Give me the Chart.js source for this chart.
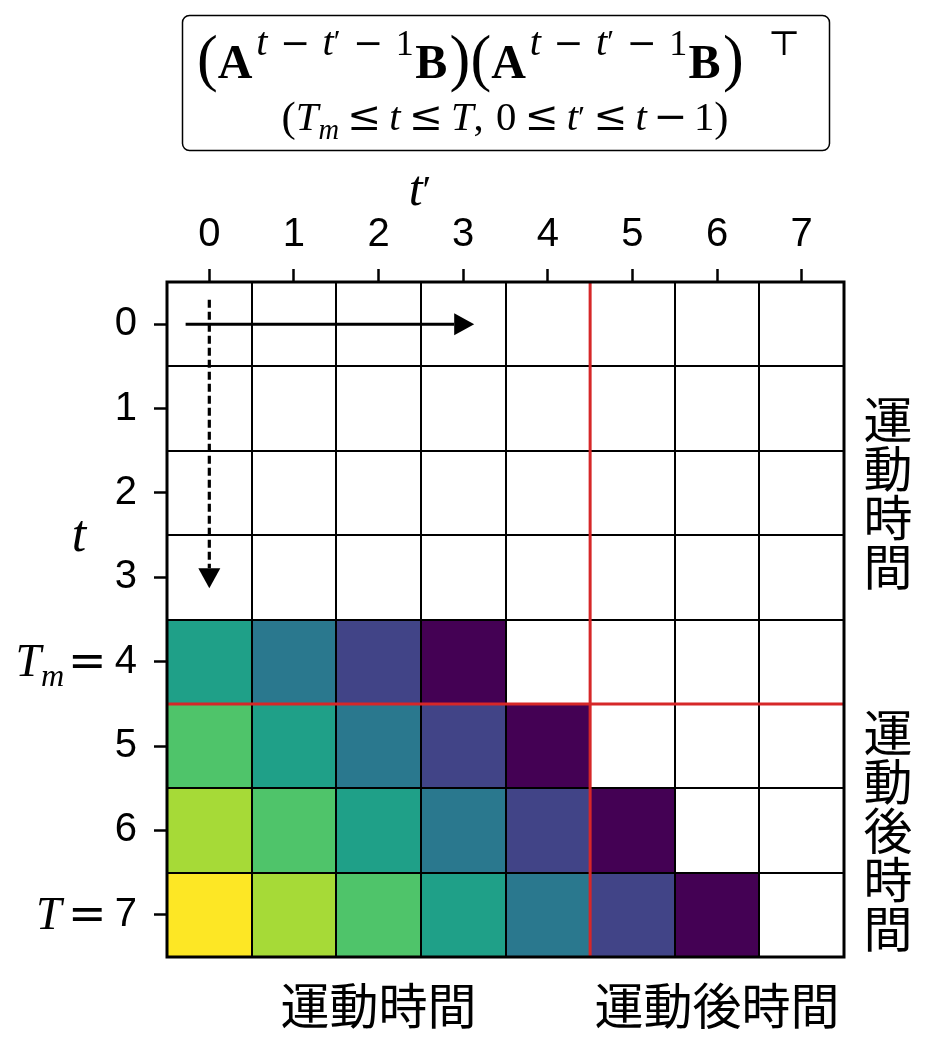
<!DOCTYPE html>
<html>
<head>
<meta charset="utf-8">
<script src="https://cdn.jsdelivr.net/npm/chart.js@4.4.1/dist/chart.umd.min.js"></script>
<style>
  html, body { margin: 0; padding: 0; background: #fff; }
  #wrap { width: 935px; height: 1053px; }
</style>
</head>
<body>
<div id="wrap"><canvas id="c" width="935" height="1053"></canvas></div>
<script>
// ---- data ----
const tPrimeLabels = ['0', '1', '2', '3', '4', '5', '6', '7'];   // columns t'
const tLabels = ['0', '1', '2', '3', '4', '5', '6', '7'];        // rows t
// level k = t - t' - 1 (null = empty cell)
const row0 = [null, null, null, null, null, null, null, null];
const row1 = [null, null, null, null, null, null, null, null];
const row2 = [null, null, null, null, null, null, null, null];
const row3 = [null, null, null, null, null, null, null, null];
const row4 = [3, 2, 1, 0, null, null, null, null];
const row5 = [4, 3, 2, 1, 0, null, null, null];
const row6 = [5, 4, 3, 2, 1, 0, null, null];
const row7 = [6, 5, 4, 3, 2, 1, 0, null];
const levelColors = ['#440154', '#414487', '#2a788e', '#1fa088', '#4fc46a', '#a6da37', '#fde725'];
const tmBoundary = 4.5;            // between t=4 and t=5
const tPrimeBoundary = 4.5;        // between t'=4 and t'=5
const acrossArrow = [-0.28, 3.13]; // along t' at t=0
const downArrow = [-0.29, 3.13];   // along t at t'=0
const rowGroups = [['運動時間', -0.5, 4.5], ['運動後時間', 4.5, 7.5]];
const colGroups = [['運動時間', -0.5, 4.5], ['運動後時間', 4.5, 7.5]];

const rows = [row0, row1, row2, row3, row4, row5, row6, row7];

const datasets = rows.map((r, t) => ({
  label: 't=' + tLabels[t],
  xAxisID: 'x',
  yAxisID: 'y',
  data: r.map(() => [t - 0.5, t + 0.5]),
  backgroundColor: r.map(v => v === null ? '#ffffff' : levelColors[v]),
  borderWidth: 0,
  grouped: false,
  barPercentage: 1,
  categoryPercentage: 1
}));

const SERIF = '"Liberation Serif", "DejaVu Serif", serif';
const DJV = '"DejaVu Serif", serif';
function fontOf(st, size) {
  if (st === 'd') return size + 'px ' + DJV;
  return (st === 'i' ? 'italic ' : '') + (st === 'b' ? 'bold ' : '') + size + 'px ' + SERIF;
}
function measureRuns(ctx, runs, S) {
  let w = 0;
  for (const r of runs) {
    if (r[1] === 'g') { w += r[2] * S; continue; }
    ctx.font = fontOf(r[1], r[2] * S);
    w += ctx.measureText(r[0]).width;
  }
  return w;
}
function drawRuns(ctx, runs, S, x, baseline, align, targetW) {
  if (targetW) S = S * targetW / measureRuns(ctx, runs, S);
  const w = measureRuns(ctx, runs, S);
  let cx = align === 'center' ? x - w / 2 : (align === 'right' ? x - w : x);
  ctx.textAlign = 'left';
  ctx.textBaseline = 'alphabetic';
  ctx.fillStyle = '#000';
  for (const r of runs) {
    if (r[1] === 'g') { cx += r[2] * S; continue; }
    ctx.font = fontOf(r[1], r[2] * S);
    ctx.fillText(r[0], cx, baseline + (r[3] || 0) * S);
    cx += ctx.measureText(r[0]).width;
  }
}
function drawArrow(ctx, x0, y0, x1, y1, dashed) {
  const head = 20, half = 11, lw = dashed ? 3.2 : 3;
  const dx = x1 - x0, dy = y1 - y0, L = Math.hypot(dx, dy);
  const ux = dx / L, uy = dy / L;
  const bx = x1 - ux * head, by = y1 - uy * head;
  ctx.save();
  ctx.strokeStyle = '#000'; ctx.fillStyle = '#000'; ctx.lineWidth = lw;
  if (dashed) ctx.setLineDash([8, 4]);
  ctx.beginPath(); ctx.moveTo(x0, y0); ctx.lineTo(bx, by); ctx.stroke();
  ctx.setLineDash([]);
  ctx.beginPath();
  ctx.moveTo(x1, y1);
  ctx.lineTo(bx - uy * half, by + ux * half);
  ctx.lineTo(bx + uy * half, by - ux * half);
  ctx.closePath(); ctx.fill();
  ctx.restore();
}

const SUP = -0.48;
const SZ = 0.75;
const TZ = 0.84;
const SG = 0.26;
const supGroup = [
  ['', 'g', 0.08],
  ['t', 'i', TZ, SUP], ['', 'g', SG], ['\u2212', 'd', SZ, SUP], ['', 'g', SG],
  ['t', 'i', TZ, SUP], ['\u2032', 'n', 0.65, SUP - 0.06], ['', 'g', SG], ['\u2212', 'd', SZ, SUP],
  ['', 'g', SG], ['1', 'n', SZ, SUP], ['', 'g', 0.03]
];
const P = 1.3;
const titleLine1 = [
  ['(', 'n', P, 0.03], ['A', 'b', 1], ...supGroup, ['B', 'b', 1], ['', 'g', 0.05], [')', 'n', P, 0.03],
  ['(', 'n', P, 0.03], ['A', 'b', 1], ...supGroup, ['B', 'b', 1], ['', 'g', 0.05], [')', 'n', P, 0.03],
  ['', 'g', 0.5], ['\u22A4', 'd', 0.72, SUP]
];
const G = 0.2;
const titleLine2 = [
  ['(', 'n', 1.05, 0.03], ['T', 'i', 1], ['m', 'i', 0.7, 0.22], ['', 'g', G], ['\u2264', 'd', 1], ['', 'g', G],
  ['t', 'i', 1], ['', 'g', G], ['\u2264', 'd', 1], ['', 'g', G], ['T', 'i', 1], [',', 'n', 1], ['', 'g', 0.3],
  ['0', 'n', 1], ['', 'g', G], ['\u2264', 'd', 1], ['', 'g', G], ['t', 'i', 1], ['\u2032', 'n', 0.8, -0.05],
  ['', 'g', G], ['\u2264', 'd', 1], ['', 'g', G], ['t', 'i', 1], ['', 'g', 0.16], ['\u2212', 'd', 1],
  ['', 'g', 0.16], ['1', 'n', 1], [')', 'n', 1.05, 0.03]
];

const overlay = {
  id: 'overlay',
  afterDraw(chart) {
    const { ctx, chartArea: a, scales: { x, y } } = chart;
    ctx.save();
    // red boundary lines
    ctx.strokeStyle = '#d62728'; ctx.lineWidth = 3;
    const xb = x.getPixelForValue(tPrimeBoundary);
    const yb = y.getPixelForValue(tmBoundary);
    ctx.beginPath(); ctx.moveTo(xb, a.top); ctx.lineTo(xb, a.bottom); ctx.stroke();
    ctx.beginPath(); ctx.moveTo(a.left, yb); ctx.lineTo(a.right, yb); ctx.stroke();
    // spines
    ctx.strokeStyle = '#000'; ctx.lineWidth = 3;
    ctx.strokeRect(a.left, a.top, a.right - a.left, a.bottom - a.top);
    ctx.restore();
    // arrows
    drawArrow(ctx, x.getPixelForValue(acrossArrow[0]), y.getPixelForValue(0),
      x.getPixelForValue(acrossArrow[1]), y.getPixelForValue(0), false);
    drawArrow(ctx, x.getPixelForValue(0), y.getPixelForValue(downArrow[0]),
      x.getPixelForValue(0), y.getPixelForValue(downArrow[1]), true);

    ctx.save();
    // title box
    ctx.strokeStyle = '#000'; ctx.lineWidth = 1.5;
    ctx.beginPath(); ctx.roundRect(182.5, 15.5, 647, 135, 7); ctx.stroke();
    drawRuns(ctx, titleLine1, 48, 197, 78, 'left');
    drawRuns(ctx, titleLine2, 37, 505, 130, 'center', 447);
    // axis titles
    drawRuns(ctx, [['t', 'i', 1], ['\u2032', 'n', 0.8, -0.05]], 50, 420, 205, 'center');
    drawRuns(ctx, [['t', 'i', 1]], 52, 79, 551, 'center');
    // tick prefixes T_m = and T =
    const labelRight = y.right - 13 - 17;
    const pre = (val, runs) => {
      ctx.font = '40px "Liberation Sans"';
      const w = ctx.measureText(tLabels[val]).width;
      drawRuns(ctx, runs, 46, labelRight - w, y.getPixelForValue(val) + 14, 'right');
    };
    pre(4, [['T', 'i', 1], ['m', 'i', 0.7, 0.22], ['', 'g', 0.08], ['=', 'd', 1], ['', 'g', 0.18]]);
    pre(7, [['T', 'i', 1], ['', 'g', 0.14], ['=', 'd', 1], ['', 'g', 0.18]]);
    // group labels
    ctx.fillStyle = '#000';
    ctx.font = '49px "Noto Sans CJK JP"';
    ctx.textAlign = 'center'; ctx.textBaseline = 'middle';
    for (const [txt, v0, v1] of rowGroups) {
      const cy = (y.getPixelForValue(v0) + y.getPixelForValue(v1)) / 2;
      const chars = Array.from(txt), step = 49;
      chars.forEach((ch, i) => ctx.fillText(ch, 888, cy + (i - (chars.length - 1) / 2) * step));
    }
    for (const [txt, v0, v1] of colGroups) {
      const cx = (x.getPixelForValue(v0) + x.getPixelForValue(v1)) / 2;
      ctx.fillText(txt, cx, 1005);
    }
    ctx.restore();
  }
};

const cellGrid = { display: true, drawOnChartArea: true, drawTicks: false, color: '#000', lineWidth: 2, z: 1 };

new Chart(document.getElementById('c'), {
  type: 'bar',
  data: { labels: tPrimeLabels, datasets },
  options: {
    responsive: false,
    animation: false,
    events: [],
    layout: { padding: { left: 0, top: 0, right: 91, bottom: 96 } },
    plugins: { legend: { display: false }, tooltip: { enabled: false }, title: { display: false } },
    scales: {
      x: {
        type: 'category',
        position: 'top',
        offset: true,
        afterFit: s => { s.height = 282; },
        grid: { display: true, offset: false, drawOnChartArea: false, drawTicks: true, tickLength: 13, tickWidth: 2.5, tickColor: '#000' },
        border: { display: false },
        ticks: { font: { family: '"Liberation Sans"', size: 40 }, color: '#000', padding: 10, maxRotation: 0, autoSkip: false }
      },
      y: {
        type: 'linear',
        position: 'left',
        reverse: true,
        min: -0.5,
        max: 7.5,
        afterFit: s => { s.width = 167; },
        afterBuildTicks: s => { s.ticks = tLabels.map((_, i) => ({ value: i })); },
        grid: { display: true, drawOnChartArea: false, drawTicks: true, tickLength: 13, tickWidth: 2.5, tickColor: '#000' },
        border: { display: false },
        ticks: { font: { family: '"Liberation Sans"', size: 40 }, color: '#000', padding: 17,
                 callback: v => tLabels[v] }
      },
      xCells: {
        type: 'category',
        axis: 'x',
        position: 'bottom',
        offset: true,
        afterFit: s => { s.height = 0; },
        grid: Object.assign({ offset: true }, cellGrid),
        border: { display: false },
        ticks: { display: false, autoSkip: false }
      },
      yCells: {
        type: 'linear',
        axis: 'y',
        position: 'right',
        reverse: true,
        min: -0.5,
        max: 7.5,
        afterFit: s => { s.width = 0; },
        afterBuildTicks: s => { s.ticks = [...tLabels, ''].map((_, i) => ({ value: i - 0.5 })); },
        grid: cellGrid,
        border: { display: false },
        ticks: { display: false }
      }
    }
  },
  plugins: [overlay]
});
</script>
</body>
</html>
